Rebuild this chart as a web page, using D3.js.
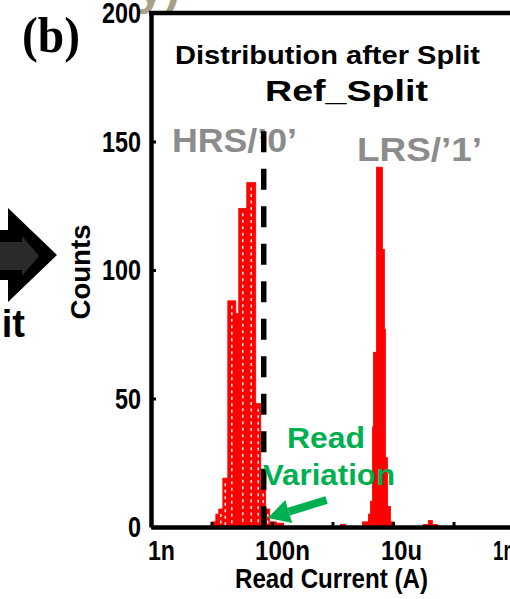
<!DOCTYPE html>
<html>
<head>
<meta charset="utf-8">
<script src="https://d3js.org/d3.v7.min.js"></script>
<style>
body { margin: 0; background: #fff; }
svg { display: block; font-family: "Liberation Sans", Arial, sans-serif; font-weight: bold; }
</style>
</head>
<body>
<script>
// histogram bins (edges in A, counts per bin)
const hrsEdges = [1.01e-8, 1.18e-8, 1.32e-8, 1.54e-8, 1.86e-8, 2.52e-8, 2.82e-8, 3.83e-8, 5.38e-8, 6.52e-8, 7.87e-8, 9.16e-8, 1.19e-7, 1.56e-7];
const hrsCounts = [2, 5, 7, 19, 88, 83, 124, 134, 48, 15, 7, 2, 1.5];
const lrsEdges = [1.36e-6, 1.64e-6, 3.13e-6, 3.93e-6, 4.24e-6, 4.57e-6, 4.75e-6, 5.32e-6, 6.68e-6, 7.21e-6, 7.49e-6, 8.09e-6, 9.06e-6, 1.02e-5, 3.17e-5, 3.84e-5, 4.47e-5, 5.40e-5];
const lrsCounts = [1, 0, 2, 5, 10, 39, 68, 140, 108, 77, 27, 8, 2, 0, 1, 2.5, 1];
const readThreshold = 7.3e-8;
const xTickValues = [1e-9, 1e-8, 1e-7, 1e-6, 1e-5, 1e-4, 1e-3];
const xLabelValues = [1e-9, 1e-7, 1e-5, 1e-3];
const xLabelTexts = ["1n", "100n", "10u", "1m"];
const xLabelShift = [10, 10, 8, -8];
const yTicks = [0, 50, 100, 150, 200];
// arrow annotation, [current, count] from tail to tip
const arrowTail = [7.98e-7, 10.5];
const arrowTip = [8.5e-8, 3.5];

const width = 510;
const height = 599;
const red = "#ff0000";
const grey = "#8c8c8c";
const green = "#00b050";

let svg = d3.select("body").append("svg")
	.attr("width", width)
	.attr("height", height);

let x = d3.scaleLog()
	.domain([1e-9, 1e-3])
	.range([151, 514]);
let y = d3.scaleLinear()
	.domain([0, 200])
	.range([527, 13]);

// bits of the neighbouring panel that got cropped in
svg.append("text")
	.attr("x", 180).attr("y", 4)
	.attr("text-anchor", "end")
	.style("font-size", "48px")
	.attr("fill", "#a8a088")
	.text("y)");
svg.append("polygon")
	.attr("points", "0,230 8,230 8,208 57,255 8,302 8,280 0,280")
	.attr("fill", "#000");
svg.append("polygon")
	.attr("points", "0,242 22,242 22,236 39,256 22,276 22,270 0,270")
	.attr("fill", "#2a2a2a");
svg.append("text")
	.attr("x", 25).attr("y", 337)
	.attr("text-anchor", "end")
	.style("font-size", "38px")
	.text("Split");
svg.append("text")
	.attr("x", 22).attr("y", 52)
	.style("font-family", "'Liberation Serif', 'Times New Roman', serif")
	.style("font-size", "50px")
	.attr("textLength", 58)
	.attr("lengthAdjust", "spacingAndGlyphs")
	.text("(b)");

// titles and state labels
svg.append("text")
	.attr("x", 175).attr("y", 64)
	.style("font-size", "26px")
	.attr("textLength", 305)
	.attr("lengthAdjust", "spacingAndGlyphs")
	.text("Distribution after Split");
svg.append("text")
	.attr("x", 265).attr("y", 101)
	.style("font-size", "30px")
	.attr("textLength", 163)
	.attr("lengthAdjust", "spacingAndGlyphs")
	.text("Ref_Split");
svg.append("text")
	.attr("x", 172).attr("y", 152)
	.style("font-size", "33px")
	.attr("fill", grey)
	.attr("textLength", 125)
	.attr("lengthAdjust", "spacingAndGlyphs")
	.text("HRS/\u20190\u2019");
svg.append("text")
	.attr("x", 357).attr("y", 161)
	.style("font-size", "33px")
	.attr("fill", grey)
	.attr("textLength", 125)
	.attr("lengthAdjust", "spacingAndGlyphs")
	.text("LRS/\u20191\u2019");

// HRS bars, with the white dotted hatch
let hrsBins = hrsCounts.map((c, i) => ({lo: hrsEdges[i], hi: hrsEdges[i+1], count: c}));
let lrsBins = lrsCounts.map((c, i) => ({lo: lrsEdges[i], hi: lrsEdges[i+1], count: c}));

svg.append("g").selectAll("rect")
	.data(hrsBins.filter(d => d.count > 0))
	.enter().append("rect")
	.attr("x", d => x(d.lo))
	.attr("width", d => x(d.hi) - x(d.lo))
	.attr("y", d => y(d.count))
	.attr("height", d => y(0) - y(d.count))
	.attr("fill", red)
	.attr("stroke", red)
	.attr("stroke-width", 0.8);

svg.append("g").selectAll("line")
	.data(hrsBins.filter(d => x(d.hi) - x(d.lo) >= 3 && d.count > 3))
	.enter().append("line")
	.attr("x1", d => (x(d.lo) + x(d.hi)) / 2)
	.attr("x2", d => (x(d.lo) + x(d.hi)) / 2)
	.attr("y1", d => y(d.count) + 5)
	.attr("y2", y(0))
	.attr("stroke", "#fff")
	.attr("stroke-width", 1.4)
	.attr("stroke-dasharray", "3,3.5");

svg.append("g").selectAll("rect")
	.data(lrsBins.filter(d => d.count > 0))
	.enter().append("rect")
	.attr("x", d => x(d.lo))
	.attr("width", d => x(d.hi) - x(d.lo))
	.attr("y", d => y(d.count))
	.attr("height", d => y(0) - y(d.count))
	.attr("fill", red)
	.attr("stroke", red)
	.attr("stroke-width", 0.8);

// read threshold
svg.append("line")
	.attr("x1", x(readThreshold)).attr("x2", x(readThreshold))
	.attr("y1", y(154)).attr("y2", y(0))
	.attr("stroke", "#000")
	.attr("stroke-width", 5.5)
	.attr("stroke-dasharray", "21,16.5");

// axes
let yAxis = d3.axisLeft(y)
	.tickValues(yTicks)
	.tickSize(-5)
	.tickSizeOuter(0)
	.tickPadding(10);
let gY = svg.append("g")
	.attr("transform", "translate(" + x(1e-9) + ",0)")
	.call(yAxis);
gY.selectAll("text")
	.style("font-size", "30px")
	.style("font-family", "'Liberation Sans', Arial, sans-serif")
	.attr("fill", "#000")
	.attr("textLength", d => String(d).length * 13)
	.attr("lengthAdjust", "spacingAndGlyphs");

let xAxis = d3.axisBottom(x)
	.tickValues(xTickValues)
	.tickSize(-5)
	.tickSizeOuter(0)
	.tickPadding(13)
	.tickFormat(d => {
		let k = xLabelValues.indexOf(d);
		return k >= 0 ? xLabelTexts[k] : "";
	});
let gX = svg.append("g")
	.attr("transform", "translate(0," + y(0) + ")")
	.call(xAxis);
gX.selectAll("text")
	.style("font-size", "28px")
	.style("font-family", "'Liberation Sans', Arial, sans-serif")
	.attr("fill", "#000")
	.attr("dx", d => {
		let k = xLabelValues.indexOf(d);
		return k >= 0 ? xLabelShift[k] : 0;
	})
	.attr("textLength", d => {
		let k = xLabelValues.indexOf(d);
		return k >= 0 ? xLabelTexts[k].length * 14 - 1 : null;
	})
	.attr("lengthAdjust", "spacingAndGlyphs");

[gX, gY].forEach(g => {
	g.select(".domain").attr("stroke-width", 4.5);
	g.selectAll(".tick line").attr("stroke-width", 3);
});

// top frame
svg.append("line")
	.attr("x1", x(1e-9) - 2).attr("x2", width)
	.attr("y1", y(200)).attr("y2", y(200))
	.attr("stroke", "#000")
	.attr("stroke-width", 4.5);

// axis titles
svg.append("text")
	.attr("transform", "translate(90,272) rotate(-90)")
	.attr("text-anchor", "middle")
	.style("font-size", "27px")
	.attr("textLength", 95)
	.attr("lengthAdjust", "spacingAndGlyphs")
	.text("Counts");
svg.append("text")
	.attr("x", 235).attr("y", 588)
	.style("font-size", "28px")
	.attr("textLength", 193)
	.attr("lengthAdjust", "spacingAndGlyphs")
	.text("Read Current (A)");

// read variation note
svg.append("text")
	.attr("x", 287).attr("y", 448)
	.style("font-size", "29px")
	.attr("fill", green)
	.attr("textLength", 78)
	.attr("lengthAdjust", "spacingAndGlyphs")
	.text("Read");
svg.append("text")
	.attr("x", 263).attr("y", 485)
	.style("font-size", "29px")
	.attr("fill", green)
	.attr("textLength", 132)
	.attr("lengthAdjust", "spacingAndGlyphs")
	.text("Variation");

let tail = [x(arrowTail[0]), y(arrowTail[1])];
let tip = [x(arrowTip[0]), y(arrowTip[1])];
let dx = tip[0] - tail[0], dy = tip[1] - tail[1];
let len = Math.sqrt(dx*dx + dy*dy);
let ux = dx/len, uy = dy/len;
let base = [tip[0] - 22*ux, tip[1] - 22*uy];
svg.append("line")
	.attr("x1", tail[0]).attr("y1", tail[1])
	.attr("x2", base[0]).attr("y2", base[1])
	.attr("stroke", green)
	.attr("stroke-width", 8);
svg.append("polygon")
	.attr("points", [tip, [base[0] - 12*uy, base[1] + 12*ux], [base[0] + 12*uy, base[1] - 12*ux]].map(p => p.join(",")).join(" "))
	.attr("fill", green);
</script>
</body>
</html>
